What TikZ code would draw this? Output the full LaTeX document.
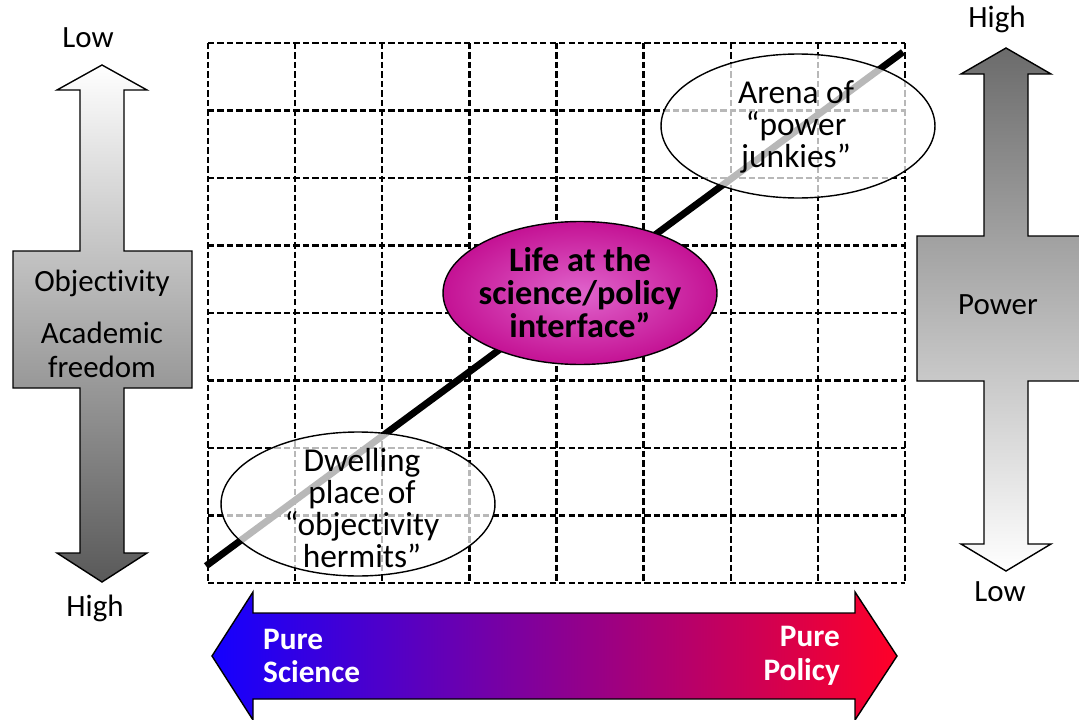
\documentclass[tikz,border=0pt]{standalone}
\usepackage{fontspec}
\setmainfont{Carlito}[Ligatures=NoCommon]
\usetikzlibrary{shapes.geometric}

\definecolor{sciblue}{RGB}{20,0,255}
\definecolor{midpurple}{RGB}{178,0,196}
\definecolor{polred}{RGB}{255,0,40}
\definecolor{hubedge}{RGB}{196,18,148}
\definecolor{hubcore}{RGB}{224,100,204}

\begin{document}
\begin{tikzpicture}[x=0.02cm,y=-0.02cm,
  every node/.style={font=\fontsize{17.6}{19.3}\selectfont,align=center},
  gridline/.style={line width=1.35pt,dash pattern=on 3.6pt off 1.8pt},
  softoval/.style={ellipse,draw,line width=0.8pt,fill=white,fill opacity=0.72,inner sep=0pt,minimum width=5.48cm,minimum height=2.88cm},
  ovaltext/.style={font=\fontsize{19}{18.2}\selectfont},
  puretext/.style={text=white,font=\fontsize{17.8}{19.3}\selectfont\bfseries}]
\clip (0,0) rectangle (1079,720);
% dashed grid
\foreach \i in {0,...,8}{
  \draw[gridline] ({208+87.125*\i},43) -- ({208+87.125*\i},583);
  \draw[gridline] (208,{43+67.5*\i}) -- (905,{43+67.5*\i});
}
\coordinate (lineLo) at (206,566);
\coordinate (lineHi) at (903,52);
\draw[line width=3.9pt] (lineLo) -- (lineHi);
% left scale: objectivity
\draw[line width=0.8pt,top color=white,middle color=black!22,bottom color=black!65]
  (102,65)--(147,90)--(124,90)--(124,251)--(192,251)--(192,388)--(124,388)--(124,553)--(147,553)--(102,582)
  --(57,553)--(80,553)--(80,388)--(13,388)--(13,251)--(80,251)--(80,90)--(57,90)--cycle;
\node (lowL) at (88,38) {Low};
\node (highL) at (95,608) {High};
\node (objTxt) at (102,283) {Objectivity};
\node (acadTxt) at (102,350) {Academic\\freedom};
% right scale: power
\draw[line width=0.8pt,top color=black!58,middle color=black!22,bottom color=white]
  (1006,48)--(1051,74)--(1028,74)--(1028,236)--(1095,236)--(1095,381)--(1028,381)--(1028,544)--(1051,544)--(1006,571)
  --(961,544)--(984,544)--(984,381)--(917,381)--(917,236)--(984,236)--(984,74)--(961,74)--cycle;
\node (highR) at (997,19) {High};
\node (lowR) at (1000,592) {Low};
\node (powTxt) at (998,305) {Power};
% ovals
\node[softoval] (hermits) at (358,504) {};
\node[ovaltext] (hermitsTxt) at (362,508) {Dwelling\\place of\\“objectivity\\hermits”};
\node[softoval] (junkies) at (798,126) {};
\node[ovaltext] (junkiesTxt) at (796,127) {Arena of\\“power\\junkies”};
\node[ellipse,draw,line width=0.8pt,inner sep=0pt,minimum width=5.48cm,minimum height=2.86cm,
  inner color=hubcore,outer color=hubedge] (iface) at (580,293) {};
\node[font=\fontsize{19.5}{18.8}\selectfont\bfseries] (ifaceTxt) at (580,293) {Life at the\\science/policy\\interface”};
% bottom scale
\draw[line width=0.8pt,left color=sciblue,middle color=midpurple,right color=polred]
  (212,656)--(253,592)--(253,613)--(855,613)--(855,592)--(897,656)--(855,720)--(855,699)--(253,699)--(253,720)--cycle;
\node[puretext,anchor=west,align=left] (pureSci) at (257,656) {Pure\\Science};
\node[puretext,anchor=east,align=right] (purePol) at (846,656) {Pure\\Policy};
\end{tikzpicture}
\end{document}
